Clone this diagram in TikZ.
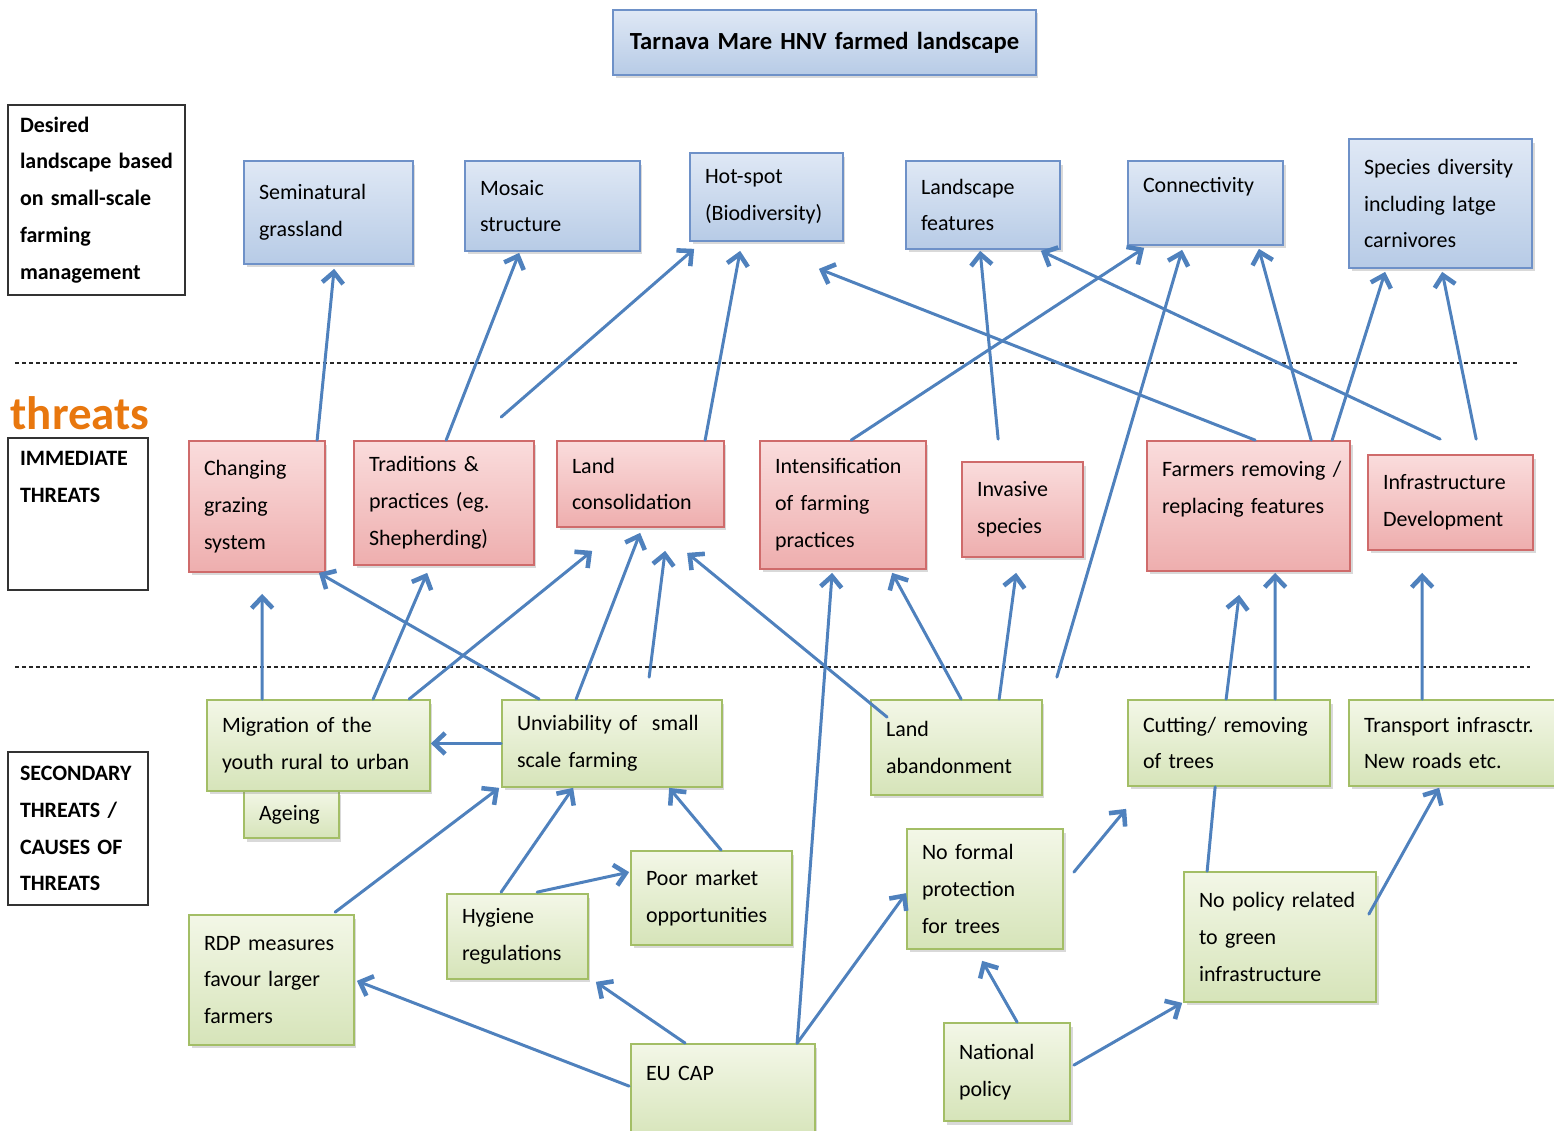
\documentclass[tikz,border=0pt]{standalone}
\usepackage{fontspec}
\setmainfont{Carlito}
\usetikzlibrary{arrows.meta,shadows}
\definecolor{arrowblue}{HTML}{4F81BD}
\definecolor{bluetop}{HTML}{DFE8F5}
\definecolor{bluebot}{HTML}{B7CBE6}
\definecolor{blueedge}{HTML}{6E91C8}
\definecolor{redtop}{HTML}{FADCDC}
\definecolor{redbot}{HTML}{EEAEAE}
\definecolor{rededge}{HTML}{CF6B6B}
\definecolor{greentop}{HTML}{F3F7E7}
\definecolor{greenbot}{HTML}{D6E4B9}
\definecolor{greenedge}{HTML}{A3BE66}
\definecolor{threatorange}{HTML}{E8770E}
\hyphenpenalty=10000
\exhyphenpenalty=10000
\tikzset{
    box/.style 2 args={rectangle, line width=1pt, align=left, inner xsep=0.3cm,
        inner ysep=0pt, text width=#1, minimum height=#2,
        drop shadow={opacity=0.3, shadow xshift=0.05cm, shadow yshift=-0.07cm}},
    bluebox/.style={draw=blueedge, top color=bluetop, bottom color=bluebot},
    redbox/.style={draw=rededge, top color=redtop, bottom color=redbot},
    greenbox/.style={draw=greenedge, top color=greentop, bottom color=greenbot},
    labelbox/.style 2 args={draw=black!80, line width=0.7pt, fill=white, align=left,
        inner xsep=0.24cm, inner ysep=0pt, text width=#1, minimum height=#2,
        font=\fontsize{12.5}{21}\selectfont\bfseries},
    sepline/.style={draw=black!85, line width=0.7pt, dash pattern=on 0.08cm off 0.06cm},
    arr/.style={draw=arrowblue, line width=1.7pt, line cap=round,
        -{Straight Barb[length=0.22cm,width=0.42cm,line width=2.6pt]}},
    link/.style={draw=arrowblue, line width=1.7pt, line cap=round}
}
\begin{document}
\begin{tikzpicture}[x=0.02cm, y=0.02cm, font=\fontsize{12.5}{21}\selectfont]
    \useasboundingbox (0,0) rectangle (1554,-1131);

    \node[box={8.46cm}{1.3cm}, bluebox, align=center, inner xsep=0pt,
        font=\fontsize{14}{21}\selectfont\bfseries] (title) at (824.5,-42.5)
        {Tarnava Mare HNV farmed landscape};

    \node[labelbox={3.06cm}{3.8cm}] (desired) at (96.5,-200)
        {Desired\\landscape~based\\on~small-scale\\farming\\management};
    \node[font=\fontsize{26.7}{30}\selectfont\bfseries, text=threatorange, inner sep=0pt]
        (threatlbl) at (80,-413) {threats};
    \node[labelbox={2.32cm}{3.04cm}] (immediate) at (78,-514)
        {IMMEDIATE\\THREATS\\~\\~};
    \node[labelbox={2.32cm}{3.06cm}] (secondary) at (78,-828.5)
        {SECONDARY\\THREATS~/\\CAUSES~OF\\THREATS};

    \draw[sepline] (15,-363) -- (1517,-363);
    \draw[sepline] (15,-667) -- (1530,-667);

    \node[box={2.78cm}{2.06cm}, bluebox] (semi) at (328.5,-212.5) {Seminatural\\grassland};
    \node[box={2.9cm}{1.8cm}, bluebox] (mosaic) at (552.5,-206) {Mosaic\\structure};
    \node[box={2.46cm}{1.76cm}, bluebox] (hotspot) at (766.5,-197) {Hot-spot\\(Biodiversity)};
    \node[box={2.48cm}{1.76cm}, bluebox] (landsc) at (983,-205) {Landscape\\features};
    \node[box={2.5cm}{1.68cm}, bluebox] (connect) at (1205.5,-203) {Connectivity\\~};
    \node[box={3.06cm}{2.58cm}, bluebox] (species) at (1440.5,-203.5)
        {Species~diversity\\including latge\\carnivores};

    \node[box={2.12cm}{2.62cm}, redbox] (chgraz) at (257,-506.5) {Changing\\grazing\\system};
    \node[box={3.0cm}{2.48cm}, redbox] (tradit) at (444,-503)
        {Traditions \&\\practices (eg.\\Shepherding)};
    \node[box={2.74cm}{1.72cm}, redbox] (landcons) at (640.5,-484) {Land\\consolidation};
    \node[box={2.72cm}{2.56cm}, redbox] (intens) at (843,-505)
        {Intensification\\of farming\\practices};
    \node[box={1.82cm}{1.9cm}, redbox] (invasive) at (1022.5,-509.5) {Invasive\\species};
    \node[box={3.46cm}{2.6cm}, redbox] (farmers) at (1248.5,-506)
        {Farmers~removing~/\\replacing~features\\~};
    \node[box={2.7cm}{1.9cm}, redbox] (infra) at (1450.5,-502.5) {Infrastructure\\Development};

    \node[box={1.3cm}{0.94cm}, greenbox] (ageing) at (291.5,-814.5) {Ageing};
    \node[box={3.86cm}{1.82cm}, greenbox] (migr) at (318.5,-745.5)
        {Migration of the\\youth~rural~to~urban};
    \node[box={3.8cm}{1.74cm}, greenbox] (unviab) at (612,-743.5)
        {Unviability~of~~small\\scale farming};
    \node[box={2.82cm}{1.9cm}, greenbox] (landab) at (956.5,-747.5) {Land\\abandonment};
    \node[box={3.44cm}{1.72cm}, greenbox] (cutting) at (1229,-743) {Cutting/~removing\\of trees};
    \node[box={3.62cm}{1.72cm}, greenbox] (transport) at (1454.5,-743)
        {Transport~infrasctr.\\New roads etc.};
    \node[box={2.52cm}{2.4cm}, greenbox] (noformal) at (985,-889) {No formal\\protection\\for trees};
    \node[box={2.62cm}{1.88cm}, greenbox] (poor) at (711.5,-898) {Poor market\\opportunities};
    \node[box={2.22cm}{1.7cm}, greenbox] (hygiene) at (517.5,-936.5) {Hygiene\\regulations};
    \node[box={2.7cm}{2.6cm}, greenbox] (rdp) at (271.5,-980)
        {RDP~measures\\favour~larger\\farmers};
    \node[box={3.24cm}{2.6cm}, greenbox] (nopolicy) at (1280,-937)
        {No~policy~related\\to green\\infrastructure};
    \node[box={3.08cm}{1.92cm}, greenbox] (eucap) at (723,-1092) {EU CAP\\~};
    \node[box={1.92cm}{1.96cm}, greenbox] (national) at (1007,-1072) {National\\policy};

    \draw[arr] ([shift={(129,0)}]chgraz.north west) -- ([shift={(91,-4)}]semi.south west);
    \draw[arr] ([shift={(93,0)}]tradit.north west) -- ([shift={(55,-1)}]mosaic.south west);
    \draw[arr] ([shift={(148,23)}]tradit.north west) -- ([shift={(5,-7)}]hotspot.south west);
    \draw[arr] ([shift={(149,0)}]landcons.north west) -- ([shift={(51,-9)}]hotspot.south west);
    \draw[arr] ([shift={(109,0)}]farmers.north west) -- ([shift={(-25,-27)}]hotspot.south east);
    \draw[arr] ([shift={(92,0)}]intens.north west) -- ([shift={(17,-2)}]connect.south west);
    \draw[arr] ([shift={(37,22)}]invasive.north west) -- ([shift={(75,-1)}]landsc.south west);
    \draw[arr] ([shift={(73,15)}]infra.north west) -- ([shift={(-20,-1)}]landsc.south east);
    \draw[arr] ([shift={(165,0)}]farmers.north west) -- ([shift={(-25,-3)}]connect.south east);
    \draw[arr] ([shift={(186,0)}]farmers.north west) -- ([shift={(37,-3)}]species.south west);
    \draw[arr] ([shift={(109,15)}]infra.north west) -- ([shift={(94,-3)}]species.south west);
    \draw[arr] ([shift={(14,22)}]landab.north east) -- ([shift={(55,-4)}]connect.south west);

    \draw[arr] ([shift={(56,0)}]migr.north west) -- ([shift={(74,-21)}]chgraz.south west);
    \draw[arr] ([shift={(38,0)}]unviab.north west) -- ([shift={(-7,0)}]chgraz.south east);
    \draw[arr] ([shift={(167,0)}]migr.north west) -- ([shift={(74,-7)}]tradit.south west);
    \draw[arr] ([shift={(203,0)}]migr.north west) -- ([shift={(36,-23)}]landcons.south west);
    \draw[arr] ([shift={(75,0)}]unviab.north west) -- ([shift={(84,-5)}]landcons.south west);
    \draw[arr] ([shift={(148,22)}]unviab.north west) -- ([shift={(109,-23)}]landcons.south west);
    \draw[arr] ([shift={(17,-18)}]landab.north west) -- ([shift={(131,-25)}]landcons.south west);
    \draw[arr] ([shift={(167,0)}]eucap.north west) -- ([shift={(73,-3)}]intens.south west);
    \draw[arr] ([shift={(91,0)}]landab.north west) -- ([shift={(133,-3)}]intens.south west);
    \draw[arr] ([shift={(129,0)}]landab.north west) -- ([shift={(55,-15)}]invasive.south west);
    \draw[arr] ([shift={(99,0)}]cutting.north west) -- ([shift={(93,-23)}]farmers.south west);
    \draw[arr] ([shift={(148,0)}]cutting.north west) -- ([shift={(129,-1)}]farmers.south west);
    \draw[arr] ([shift={(74,0)}]transport.north west) -- ([shift={(55,-22)}]infra.south west);

    \draw[arr] (unviab.west) -- (unviab.west -| migr.east);
    \draw[arr] ([shift={(147,2)}]rdp.north west) -- ([shift={(-2,0)}]unviab.south west);
    \draw[arr] ([shift={(55,1)}]hygiene.north west) -- ([shift={(72,0)}]unviab.south west);
    \draw[arr] ([shift={(91,0)}]poor.north west) -- ([shift={(168,0)}]unviab.south west);
    \draw[arr] ([shift={(91,1)}]hygiene.north west) -- ([shift={(-1,-22)}]poor.north west);
    \draw[arr] ([shift={(-1,-43)}]eucap.north west) -- ([shift={(2,65)}]rdp.south east);
    \draw[arr] ([shift={(55,0)}]eucap.north west) -- ([shift={(7,-2)}]hygiene.south east);
    \draw[arr] ([shift={(167,0)}]eucap.north west) -- ([shift={(0,-65)}]noformal.north west);
    \draw[arr] ([shift={(10,-44)}]noformal.north east) -- ([shift={(-1,-22)}]cutting.south west);
    \draw[arr] ([shift={(74,0)}]national.north west) -- ([shift={(76,-11)}]noformal.south west);
    \draw[arr] ([shift={(3,-43)}]national.north east) -- ([shift={(-1,0)}]nopolicy.south west);
    \draw[link] ([shift={(24,0)}]nopolicy.north west) -- ([shift={(88,0)}]cutting.south west);
    \draw[arr] ([shift={(-8,-43)}]nopolicy.north east) -- ([shift={(91,-1)}]transport.south west);
\end{tikzpicture}
\end{document}
